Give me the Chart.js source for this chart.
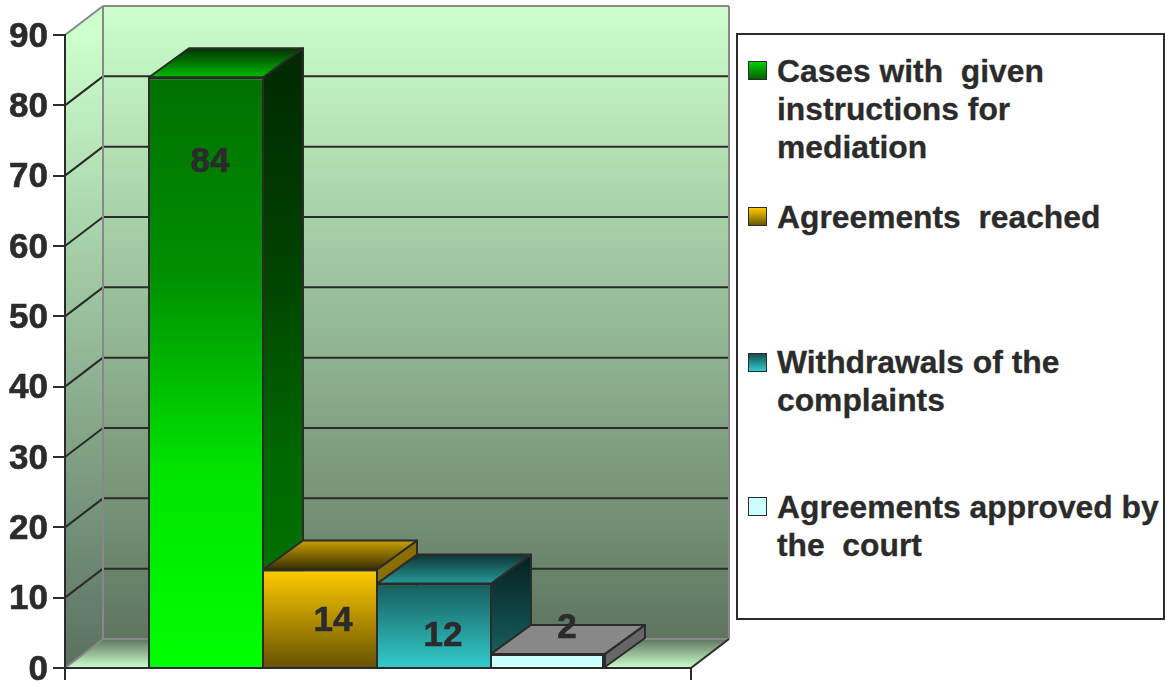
<!DOCTYPE html>
<html>
<head>
<meta charset="utf-8">
<style>
  body { margin: 0; background: #fff; }
  #wrap { position: relative; width: 1165px; height: 686px; overflow: hidden; }
  #legendBox {
    position: absolute; left: 736px; top: 33px; width: 425px; height: 583px;
    border: 2px solid #2b2b2b; background: #fff;
  }
  .swatch { position: absolute; left: 10px; width: 17px; height: 17px; border: 1.5px solid #2b2b2b; }
  .item {
    position: absolute; left: 39px; margin: 0; white-space: pre;
    font: bold 31.8px/38.2px "Liberation Sans", Arial, sans-serif; color: #2b2b2b;
    -webkit-text-stroke: 0.3px #2b2b2b;
  }
</style>
</head>
<body>
<div id="wrap">
  <canvas id="myChart" width="1165" height="686"></canvas>
  <div id="legendBox"></div>
</div>
<script src="https://cdn.jsdelivr.net/npm/chart.js@4"></script>
<script>
// data
const seriesNames = [
  "Cases with  given\ninstructions for\nmediation",
  "Agreements  reached",
  "Withdrawals of the\ncomplaints",
  "Agreements approved by\nthe  court",
];
const seriesValues = [84, 14, 12, 2];
const yTicks = [0, 10, 20, 30, 40, 50, 60, 70, 80, 90];

// colours, one entry per bar: [top of gradient, ..., bottom]
const frontColors = [
  ["#007000", "#008f00", "#00e400", "#00ff00"],
  ["#ffcc00", "#665200"],
  ["#175c5c", "#33cccc"],
  ["#ccffff", "#ccffff"],
];
const sideColors = [
  ["#002800", "#004000", "#006800", "#007800"],
  ["#8a6f00", "#8a6f00"],
  ["#052020", "#196666"],
  ["#666666", "#666666"],
];
const topColors = [
  ["#003300", "#00bb00"],
  ["#c9a000", "#3a2e00"],
  ["#0e3434", "#269a9a"],
  ["#888888", "#888888"],
];
const swatchColors = [
  ["#00d000", "#006000"],
  ["#ffcc00", "#6b5500"],
  ["#145050", "#33cccc"],
  ["#ccffff", "#ccffff"],
];
// where each number sits relative to the top middle of its bar
const labelOffsets = [[5, 85], [14, 52], [10, 53], [20, -26]];
const legendTops = [17, 163, 308, 453]; // first line, inside the legend box
const swatchTops = [26, 172, 318, 462];

const lineColor = "#2b2b2b";
const wallEdge = "#888888";
const wallDepth = [38, -29];
const barDepth = [40, -29];
const floorExtra = 4; // the floor runs a little past the plot area on the right
const tickLength = 12;

const ctx = document.getElementById("myChart");

const vGradient = (c, y1, y2, colors) => {
  const g = c.createLinearGradient(0, y1, 0, y2);
  colors.forEach((col, i) => g.addColorStop(i / (colors.length - 1), col));
  return g;
};

const face = (c, pts, fill, stroke, width) => {
  c.beginPath();
  pts.forEach((p, i) => (i ? c.lineTo(p[0], p[1]) : c.moveTo(p[0], p[1])));
  c.closePath();
  if (fill) {
    c.fillStyle = fill;
    c.fill();
  }
  if (stroke) {
    c.strokeStyle = stroke;
    c.lineWidth = width;
    c.stroke();
  }
};

const line = (c, x1, y1, x2, y2, color) => {
  c.beginPath();
  c.moveTo(x1, y1);
  c.lineTo(x2, y2);
  c.strokeStyle = color;
  c.lineWidth = 2;
  c.stroke();
};

// back wall, side wall, floor and the grid on them
const wallsPlugin = {
  id: "walls",
  beforeDraw(chart) {
    const c = chart.ctx;
    const { left, top, bottom } = chart.chartArea;
    const right = chart.chartArea.right + floorExtra;
    const [dx, dy] = wallDepth;
    const wall = vGradient(c, top + dy, bottom + dy, ["#ccffcc", "#5e7560"]);
    c.save();
    face(c, [[left + dx, top + dy], [right + dx, top + dy], [right + dx, bottom + dy], [left + dx, bottom + dy]], wall);
    face(c, [[left, top], [left + dx, top + dy], [left + dx, bottom + dy], [left, bottom]],
      vGradient(c, top, bottom, ["#ccffcc", "#5a7060"]));
    face(c, [[left, bottom], [left + dx, bottom + dy], [right + dx, bottom + dy], [right, bottom]],
      vGradient(c, bottom + dy, bottom, ["#5e7560", "#ccffcc"]));

    yTicks.forEach((t) => {
      if (t === 0 || t === yTicks[yTicks.length - 1]) return;
      const y = chart.scales.y.getPixelForValue(t);
      line(c, left, y, left + dx, y + dy, lineColor);
      line(c, left + dx, y + dy, right + dx, y + dy, lineColor);
    });
    line(c, left, top, left + dx, top + dy, wallEdge);
    line(c, left + dx, top + dy, right + dx, top + dy, wallEdge);
    line(c, right + dx, top + dy, right + dx, bottom + dy, wallEdge);
    line(c, left + dx, top + dy, left + dx, bottom + dy, wallEdge);
    line(c, left + dx, bottom + dy, right + dx, bottom + dy, wallEdge);
    line(c, left, bottom, left + dx, bottom + dy, wallEdge);
    line(c, right, bottom, right + dx, bottom + dy, lineColor);
    c.restore();
  },
};

// top and side of each bar, the library draws the front
const barFacesPlugin = {
  id: "barFaces",
  beforeDatasetsDraw(chart) {
    const c = chart.ctx;
    const [dx, dy] = barDepth;
    c.save();
    c.lineJoin = "round";
    seriesValues.forEach((v, i) => {
      const bar = chart.getDatasetMeta(i).data[0];
      const x1 = bar.x - bar.width / 2 + 1;
      const x2 = bar.x + bar.width / 2 + 1;
      const y1 = bar.y;
      const y2 = bar.base;
      face(c, [[x2, y1], [x2 + dx, y1 + dy], [x2 + dx, y2 + dy], [x2, y2]],
        vGradient(c, y1 + dy, y2, sideColors[i]), lineColor, 2);
      face(c, [[x1, y1], [x1 + dx, y1 + dy], [x2 + dx, y1 + dy], [x2, y1]],
        vGradient(c, y1 + dy, y1, topColors[i]), lineColor, 2);
    });
    c.restore();
  },
  afterDatasetsDraw(chart) {
    const c = chart.ctx;
    const { left, bottom } = chart.chartArea;
    const right = chart.chartArea.right + floorExtra;
    c.save();
    // x axis line and its two end ticks
    line(c, left - 1, bottom, right, bottom, lineColor);
    line(c, left, bottom, left, bottom + tickLength, lineColor);
    line(c, right, bottom, right, bottom + tickLength, lineColor);

    c.font = 'bold 35px "Liberation Sans", Arial, sans-serif';
    c.fillStyle = lineColor;
    c.strokeStyle = lineColor;
    c.lineWidth = 0.6;
    c.textAlign = "center";
    c.textBaseline = "middle";
    seriesValues.forEach((v, i) => {
      const bar = chart.getDatasetMeta(i).data[0];
      const tx = bar.x + labelOffsets[i][0];
      const ty = bar.y + labelOffsets[i][1];
      c.fillText(String(v), tx, ty);
      c.strokeText(String(v), tx, ty);
    });
    c.restore();
  },
};

new Chart(ctx, {
  type: "bar",
  data: {
    labels: [""],
    datasets: seriesNames.map((name, i) => ({
      label: name.replace(/\n/g, " "),
      data: [seriesValues[i]],
      borderColor: lineColor,
      borderSkipped: false,
      // neighbours share one line: only the last bar closes its right side
      borderWidth: { left: 2, top: 2, bottom: 0, right: i === seriesNames.length - 1 ? 2 : 0 },
      backgroundColor: (context) => {
        const chart = context.chart;
        if (!chart.chartArea) return frontColors[i][0];
        const s = chart.scales.y;
        return vGradient(chart.ctx, s.getPixelForValue(seriesValues[i]), s.getPixelForValue(0), frontColors[i]);
      },
    })),
  },
  plugins: [wallsPlugin, barFacesPlugin],
  options: {
    responsive: false,
    animation: false,
    layout: { padding: { left: 0, top: 35, right: 478, bottom: 18 } },
    plugins: { legend: { display: false }, tooltip: { enabled: false } },
    datasets: { bar: { categoryPercentage: 0.7331, barPercentage: 1 } },
    scales: {
      x: {
        afterFit: (s) => { s.height = 0; s.paddingLeft = 0; s.paddingRight = 0; },
        ticks: { display: false },
        border: { display: false },
        grid: { display: false },
      },
      y: {
        min: 0,
        max: 90,
        afterBuildTicks: (s) => { s.ticks = yTicks.map((value) => ({ value })); },
        afterFit: (s) => { s.width = 65; s.paddingTop = 0; s.paddingBottom = 0; },
        ticks: {
          padding: 5,
          labelOffset: 2,
          color: lineColor,
          textStrokeColor: lineColor,
          textStrokeWidth: 0.6,
          font: { family: '"Liberation Sans", Arial, sans-serif', size: 35, weight: "bold" },
        },
        border: { color: lineColor, width: 2 },
        grid: { color: lineColor, lineWidth: 2, tickLength: tickLength, drawOnChartArea: false },
      },
    },
  },
});

// legend
const legendBox = document.getElementById("legendBox");
seriesNames.forEach((name, i) => {
  const sw = document.createElement("div");
  sw.className = "swatch";
  sw.style.top = swatchTops[i] + "px";
  sw.style.background = "linear-gradient(" + swatchColors[i].join(",") + ")";
  legendBox.appendChild(sw);

  const p = document.createElement("p");
  p.className = "item";
  p.style.top = legendTops[i] + "px";
  p.textContent = name;
  legendBox.appendChild(p);
});
</script>
</body>
</html>
